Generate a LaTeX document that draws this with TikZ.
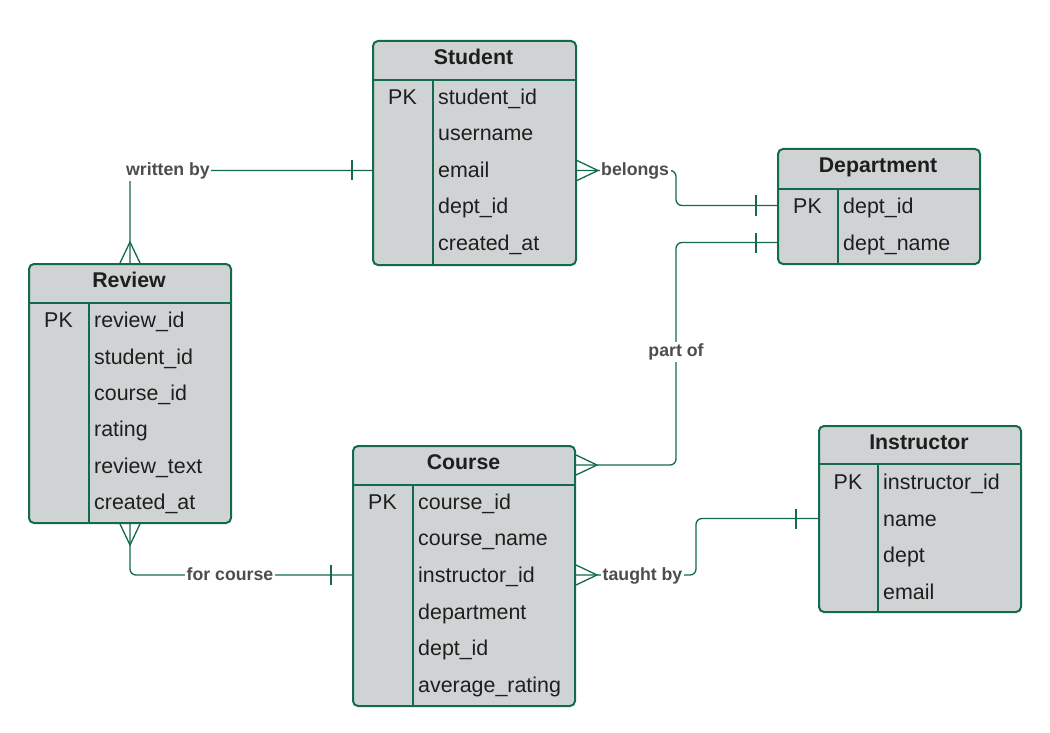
\documentclass[tikz,border=0pt]{standalone}
\usepackage{fontspec}
\setmainfont{Liberation Sans}
\usetikzlibrary{calc}
\definecolor{eg}{RGB}{20,106,76}
\definecolor{eb}{RGB}{208,211,212}
\definecolor{txc}{RGB}{30,30,30}
\definecolor{lb}{RGB}{77,77,77}
\begin{document}
\begin{tikzpicture}[x=1pt,y=-1pt,
  entity/.style={draw=eg,fill=eb,line width=2pt,rounded corners=5pt,anchor=north west,inner sep=0pt},
  divline/.style={draw=eg,line width=2pt},
  ttl/.style={font=\fontsize{21.3}{25}\selectfont\bfseries,text=txc,inner sep=0pt,text height=15pt,text depth=0pt,anchor=center},
  fld/.style={font=\fontsize{21.4}{25}\selectfont,text=txc,inner sep=0pt,text height=15pt,text depth=0pt,anchor=west},
  pk/.style={font=\fontsize{21.4}{25}\selectfont,text=txc,inner sep=0pt,text height=15pt,text depth=0pt,anchor=center},
  conn/.style={draw=eg,line width=1.3pt,rounded corners=6pt},
  crowmark/.style={draw=eg,line width=1.3pt},
  lbl/.style={font=\fontsize{17.7}{20}\selectfont\bfseries,text=lb,fill=white,inner xsep=1.5pt,inner ysep=2pt,text height=12.5pt,text depth=4pt}
]
\useasboundingbox (0,0) rectangle (1050,733);
\fill[white] (0,0) rectangle (1050,733);

% ---------- entity boxes ----------
\node[entity,minimum width=203pt,minimum height=224pt] (student) at (372,40) {};
\node[entity,minimum width=202pt,minimum height=115pt] (dept) at (777,148) {};
\node[entity,minimum width=202pt,minimum height=259pt] (review) at (28,263) {};
\node[entity,minimum width=222pt,minimum height=260pt] (course) at (352,445) {};
\node[entity,minimum width=202pt,minimum height=186pt] (instr) at (818,425) {};

% ---------- dividers ----------
\draw[divline] (372,80) -- (575,80);   \draw[divline] (433,80) -- (433,264);
\draw[divline] (777,189) -- (979,189); \draw[divline] (838,189) -- (838,263);
\draw[divline] (28,303) -- (230,303);  \draw[divline] (89,303) -- (89,522);
\draw[divline] (352,485) -- (574,485); \draw[divline] (413,485) -- (413,705);
\draw[divline] (818,464) -- (1020,464);\draw[divline] (878,464) -- (878,611);

% ---------- Student ----------
\node[ttl] (st) at (473.5,57) {Student};
\node[pk] at (402.5,97) {PK};
\node[fld] (s1) at (438,97) {student\_id};
\node[fld] (s2) at (438,133.5) {username};
\node[fld] (s3) at (438,170.5) {email};
\node[fld] (s4) at (438,206.5) {dept\_id};
\node[fld] (s5) at (438,243) {created\_at};

% ---------- Department ----------
\node[ttl] (dt) at (878,165.5) {Department};
\node[pk] at (807.5,205.5) {PK};
\node[fld] (d1) at (843,205.5) {dept\_id};
\node[fld] (d2) at (843,242.5) {dept\_name};

% ---------- Review ----------
\node[ttl] (rt) at (129,280) {Review};
\node[pk] at (58.5,320) {PK};
\node[fld] (r1) at (94,320) {review\_id};
\node[fld] (r2) at (94,356.5) {student\_id};
\node[fld] (r3) at (94,392.5) {course\_id};
\node[fld] (r4) at (94,429) {rating};
\node[fld] (r5) at (94,465.5) {review\_text};
\node[fld] (r6) at (94,502) {created\_at};

% ---------- Course ----------
\node[ttl] (ct) at (463.5,462) {Course};
\node[pk] at (382.5,501.5) {PK};
\node[fld] (c1) at (418,501.5) {course\_id};
\node[fld] (c2) at (418,538) {course\_name};
\node[fld] (c3) at (418,575) {instructor\_id};
\node[fld] (c4) at (418,611.5) {department};
\node[fld] (c5) at (418,648) {dept\_id};
\node[fld] (c6) at (418,685) {average\_rating};
\coordinate (chd) at (463.5,465);

% ---------- Instructor ----------
\node[ttl] (it) at (919,442) {Instructor};
\node[pk] at (848,481.5) {PK};
\node[fld] (i1) at (883,481.5) {instructor\_id};
\node[fld] (i2) at (883,518.5) {name};
\node[fld] (i3) at (883,554.5) {dept};
\node[fld] (i4) at (883,591.5) {email};

% ---------- connectors ----------
\coordinate (bx) at (676,0);
\coordinate (tbx) at (696,0);
% written by
\coordinate (wA) at (student.west |- s3);
\draw[conn] (wA) -| (review.north);
\draw[crowmark] ($(wA)+(-20,-10)$) -- ($(wA)+(-20,10)$);
\draw[crowmark] ($(review.north)+(-10,0)$) -- ($(review.north)+(0,-21)$) -- ($(review.north)+(10,0)$);
% belongs
\coordinate (bA) at (student.east |- s3);
\coordinate (bB) at (dept.west |- d1);
\draw[conn] (bA) -| (bx |- bB) -- (bB);
\draw[crowmark] ($(bA)+(0,-10)$) -- ($(bA)+(21,0)$) -- ($(bA)+(0,10)$);
\draw[crowmark] ($(bB)+(-21,-10)$) -- ($(bB)+(-21,10)$);
% part of
\coordinate (pA) at (dept.west |- d2);
\coordinate (pB) at (course.east |- chd);
\draw[conn] (pA) -| (bx |- pB) -- (pB);
\draw[crowmark] ($(pA)+(-21,-10)$) -- ($(pA)+(-21,10)$);
\draw[crowmark] ($(pB)+(0,-10)$) -- ($(pB)+(21,0)$) -- ($(pB)+(0,10)$);
% for course
\coordinate (fB) at (course.west |- c3);
\draw[conn] (review.south) |- (fB);
\draw[crowmark] ($(review.south)+(-10,0)$) -- ($(review.south)+(0,21)$) -- ($(review.south)+(10,0)$);
\draw[crowmark] ($(fB)+(-21,-10)$) -- ($(fB)+(-21,10)$);
% taught by
\coordinate (tA) at (course.east |- c3);
\coordinate (tB) at (instr.west |- i2);
\draw[conn] (tA) -| (tbx |- tB) -- (tB);
\draw[crowmark] ($(tA)+(0,-10)$) -- ($(tA)+(21,0)$) -- ($(tA)+(0,10)$);
\draw[crowmark] ($(tB)+(-22,-10)$) -- ($(tB)+(-22,10)$);

% ---------- labels ----------
\node[lbl,anchor=west] (lw) at (124.5,171) {written by};
\node[lbl,anchor=west] (lbg) at (599.5,171) {belongs};
\node[lbl] (lp) at (676,352) {part of};
\node[lbl] (lf) at (230,576) {for course};
\node[lbl,anchor=west] (lt) at (601,576) {taught by};
\end{tikzpicture}
\end{document}
